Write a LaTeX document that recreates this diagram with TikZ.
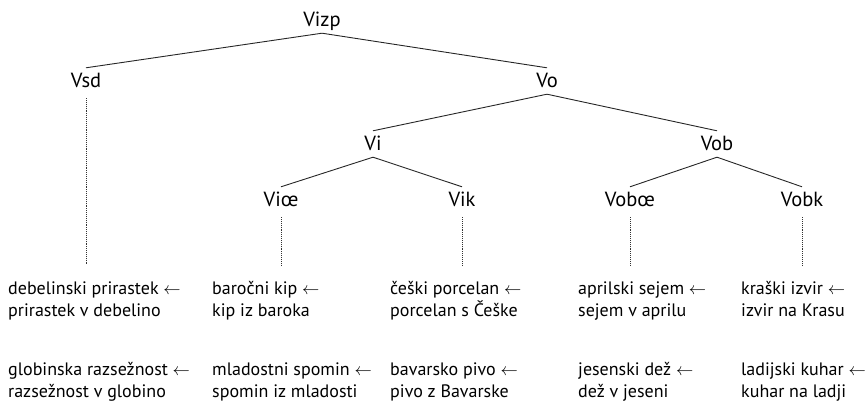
\documentclass[tikz,border=0pt]{standalone}
\usepackage{fontspec}
\setmainfont{PT Sans}
\usetikzlibrary{positioning}

\begin{document}
\begin{tikzpicture}[
  x=1pt, y=-1pt,
  cat/.style={font=\fontsize{20.5}{22}\selectfont, text height=14pt, text depth=0pt, inner xsep=1pt, inner ysep=6pt},
  gloss/.style={font=\fontsize{18}{22}\selectfont, align=left, anchor=base west, inner sep=0pt},
  branch/.style={line width=0.9pt, draw=black!85},
  link/.style={line width=0.9pt, draw=black!80, densely dotted}
]
\useasboundingbox (0,0) rectangle (868,403);

% categories
\node[cat] (vizp) at (322,20) {Vizp};
\node[cat] (vsd)  at (86,81)  {Vsd};
\node[cat] (vo)   at (547,81) {Vo};
\node[cat] (vi)   at (373,144) {Vi};
\node[cat] (vob)  at (717,144) {Vob};
\node[cat] (vioe) at (281,200) {Viœ};
\node[cat] (vik)  at (462,200) {Vik};
\node[cat] (voboe) at (630,200) {Vobœ};
\node[cat] (vobk) at (802,200) {Vobk};

\draw[branch] (vizp.south) -- (vsd.north);
\draw[branch] (vizp.south) -- (vo.north);
\draw[branch] (vo.south) -- (vi.north);
\draw[branch] (vo.south) -- (vob.north);
\draw[branch] (vi.south) -- (vioe.north);
\draw[branch] (vi.south) -- (vik.north);
\draw[branch] (vob.south) -- (voboe.north);
\draw[branch] (vob.south) -- (vobk.north);

% examples (base = last line)
\coordinate (foot) at (0,265);
\node[gloss] (ex1) at (8,317)   {debelinski prirastek $\leftarrow$\\prirastek v debelino};
\node[gloss] (ex2) at (212,317) {baročni kip $\leftarrow$\\kip iz baroka};
\node[gloss] (ex3) at (390,317) {češki porcelan $\leftarrow$\\porcelan s Češke};
\node[gloss] (ex4) at (578,317) {aprilski sejem $\leftarrow$\\sejem v aprilu};
\node[gloss] (ex5) at (741,317) {kraški izvir $\leftarrow$\\izvir na Krasu};
\node[gloss] (ex6) at (8,398)   {globinska razsežnost $\leftarrow$\\razsežnost v globino};
\node[gloss] (ex7) at (212,398) {mladostni spomin $\leftarrow$\\spomin iz mladosti};
\node[gloss] (ex8) at (390,398) {bavarsko pivo $\leftarrow$\\pivo z Bavarske};
\node[gloss] (ex9) at (578,398) {jesenski dež $\leftarrow$\\dež v jeseni};
\node[gloss] (ex10) at (741,398) {ladijski kuhar $\leftarrow$\\kuhar na ladji};

\draw[link] ([yshift=-4pt]vsd.south) -- (vsd.south |- foot);
\draw[link] ([yshift=-4pt]vioe.south) -- (vioe.south |- foot);
\draw[link] ([yshift=-4pt]vik.south) -- (vik.south |- foot);
\draw[link] ([yshift=-4pt]voboe.south) -- (voboe.south |- foot);
\draw[link] ([yshift=-4pt]vobk.south) -- (vobk.south |- foot);
\end{tikzpicture}
\end{document}
